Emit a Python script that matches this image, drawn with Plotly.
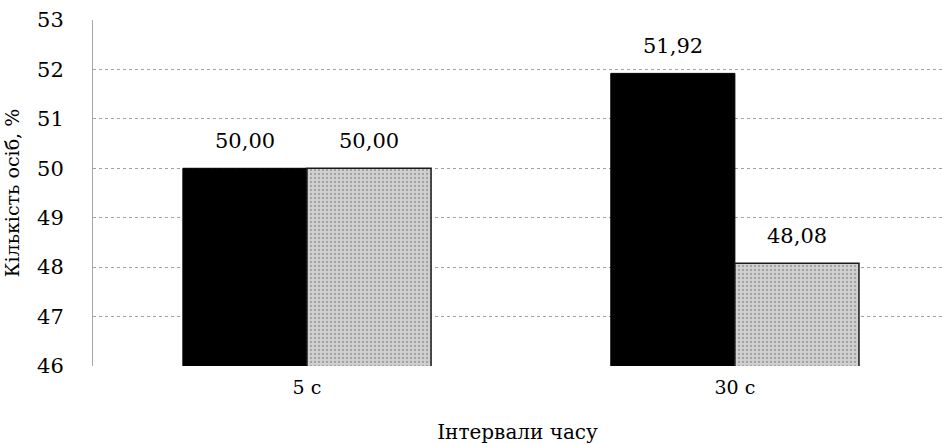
import plotly.graph_objects as go

categories = ["5 с", "30 с"]
series1 = [50.00, 51.92]
series2 = [50.00, 48.08]
y_ticks = [46, 47, 48, 49, 50, 51, 52, 53]

FONT = "DejaVu Serif"

fig = go.Figure()
fig.add_trace(go.Bar(
    x=categories, y=series1,
    marker=dict(color="#000000", line=dict(color="#000000", width=1)),
    showlegend=False,
))
fig.add_trace(go.Bar(
    x=categories, y=series2,
    marker=dict(color="#c4c4c4", line=dict(color="#1a1a1a", width=1.5),
                pattern=dict(shape=".", fgcolor="#707070", bgcolor="#d0d0d0",
                             size=4, solidity=0.25)),
    showlegend=False,
))

annotations = []
for vals, shift in ((series1, -62), (series2, 62)):
    for c, v in zip(categories, vals):
        annotations.append(dict(
            x=c, y=v, xref="x", yref="y", text=f"{v:.2f}".replace(".", ","),
            showarrow=False, xshift=shift, yshift=27, yanchor="middle",
            font=dict(family=FONT, size=21, color="#000000"),
        ))

fig.update_layout(
    width=942, height=444,
    margin=dict(l=93, r=0, t=20, b=78),
    paper_bgcolor="white", plot_bgcolor="white",
    barmode="group", bargap=0.42, bargroupgap=0,
    font=dict(family=FONT, size=19, color="#000000"),
    annotations=annotations,
    xaxis=dict(
        range=[-0.5, 1.484], showgrid=False, zeroline=False,
        showline=False, ticks="", tickfont=dict(family=FONT, size=19),
        ticklabelstandoff=8,
        title=dict(text="Інтервали часу", font=dict(family=FONT, size=20), standoff=28),
    ),
    yaxis=dict(
        range=[46, 53], tickvals=y_ticks, showgrid=True,
        gridcolor="#a0a0a0", griddash="dot", gridwidth=1,
        zeroline=False, showline=True, linecolor="#a8a8a8",
        ticks="", ticklabelstandoff=24, tickfont=dict(family=FONT, size=21),
        title=dict(text="Кількість осіб, %", font=dict(family=FONT, size=19), standoff=12),
    ),
)
fig.write_html("out.html")
